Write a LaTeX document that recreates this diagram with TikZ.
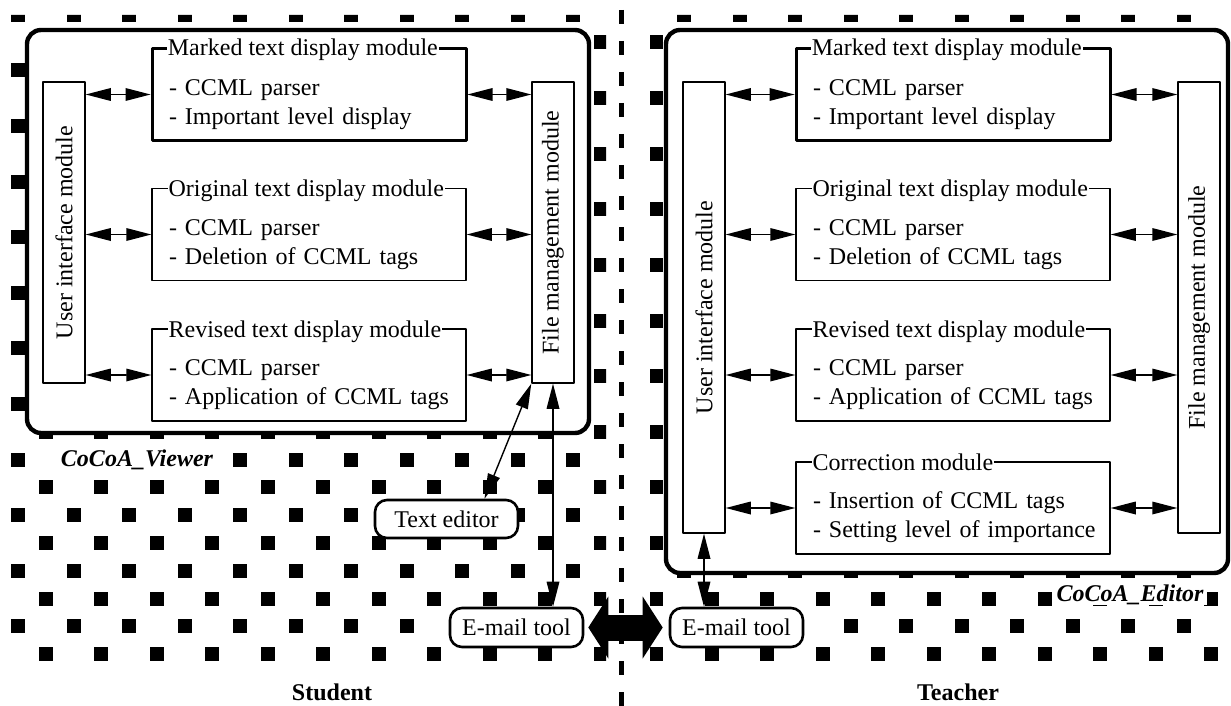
\documentclass[tikz,border=0pt]{standalone}
\usepackage{fontspec}
\setmainfont{Liberation Serif}
\usetikzlibrary{arrows.meta}

\begin{document}
\begin{tikzpicture}[line cap=round,line join=round,x=0.5pt,y=-0.5pt,
		font=\fontsize{12}{14.5}\selectfont,
		modtip/.tip={Triangle[length=12.5pt,width=6.5pt,line width=0pt]},
		bigtip/.tip={Triangle[length=10pt,width=31pt,line width=0pt]},
		modarrow/.style={modtip-modtip,line width=0.7pt},
		bigarrow/.style={bigtip-bigtip,line width=13pt,line cap=butt,shorten <=2pt,shorten >=3pt},
		divider/.style={line width=2.5pt,line cap=butt,dash pattern=on 7pt off 8.5pt},
		panel/.style={line width=2.2pt,rounded corners=7pt,fill=white},
		modbox/.style={draw,line width=0.75pt,minimum width=157pt,minimum height=46pt,
			inner xsep=4.5pt,text width=148pt,align=left,
			execute at begin node={\leftskip=4pt\rule{0pt}{18pt}}},
		markbox/.style={modbox,line width=1.5pt},
		modtitle/.style={fill=white,inner xsep=0.5pt,inner ysep=1pt,anchor=base west,xshift=8pt,yshift=-4.5pt},
		sidebox/.style={draw,line width=0.75pt,rotate=90,minimum height=21pt},
		toolbox/.style={draw,line width=1.3pt,rounded corners=6pt,fill=white,minimum width=66.5pt,minimum height=19.5pt,inner sep=0pt},
		appname/.style={fill=white,inner xsep=2pt,inner ysep=0pt,font=\fontsize{12}{14.5}\selectfont\bfseries\itshape},
		sidename/.style={font=\fontsize{12}{14.5}\selectfont\bfseries}]
	\useasboundingbox (0,0) rectangle (1231,706);
	% dotted background
	\begin{scope}
		\clip (11,15) rectangle (606,667) (650,15) rectangle (1225,667);
		\foreach \r in {0,...,23}
		\foreach \c in {0,...,21}{
			\pgfmathsetmacro\px{11+55.5*\c+27.75*mod(\r,2)}
			\pgfmathsetmacro\py{7.7+27.8*\r}
			\fill (\px,\py) rectangle +(14,14);
		}
	\end{scope}
	\draw[divider] (621,10) -- (621,706);
	
	% student side
	\draw[panel] (27,30) rectangle (589,433);
	\node[sidebox,minimum width=150.5pt] (uiL) at (64,232.5) {User interface module};
	\node[sidebox,minimum width=150.5pt] (fmL) at (553,232.5) {File management module};
	\node[markbox] (mkL) at (309,94.5) {- CCML parser\\- Important level display};
	\node[modtitle] (mkLt) at (mkL.north west) {Marked text display module};
	\node[modbox] (ogL) at (309,234.5) {- CCML parser\\- Deletion of CCML tags};
	\node[modtitle] (ogLt) at (ogL.north west) {Original text display module};
	\node[modbox] (rvL) at (309,375) {- CCML parser\\- Application of CCML tags};
	\node[modtitle] (rvLt) at (rvL.north west) {Revised text display module};
	\foreach \m in {mkL,ogL,rvL}{
		\draw[modarrow] (uiL.south |- \m.west) -- (\m.west);
		\draw[modarrow] (\m.east) -- (\m.east -| fmL.north);
	}
	\node[appname] (viewer) at (137,460) {CoCoA\_Viewer};
	\node[toolbox,minimum width=71.5pt,minimum height=19pt] (txed) at (446.5,519) {Text editor};
	\node[toolbox] (mailL) at (516.5,627.5) {E-mail tool};
	\draw[modarrow] ([xshift=19pt]txed.north) -- (fmL.north west);
	\draw[modarrow] (fmL.west) -- (fmL.west |- mailL.north);
	\node[sidename] (student) at (332,692) {Student};
	
	% teacher side
	\draw[panel] (666,30) rectangle (1228,573);
	\node[sidebox,minimum width=225.5pt] (uiR) at (704,307.5) {User interface module};
	\node[sidebox,minimum width=225.5pt] (fmR) at (1199,307.5) {File management module};
	\node[markbox] (mkR) at (953,94.5) {- CCML parser\\- Important level display};
	\node[modtitle] (mkRt) at (mkR.north west) {Marked text display module};
	\node[modbox] (ogR) at (953,234.5) {- CCML parser\\- Deletion of CCML tags};
	\node[modtitle] (ogRt) at (ogR.north west) {Original text display module};
	\node[modbox] (rvR) at (953,375) {- CCML parser\\- Application of CCML tags};
	\node[modtitle] (rvRt) at (rvR.north west) {Revised text display module};
	\node[modbox] (crR) at (953,508) {- Insertion of CCML tags\\- Setting level of importance};
	\node[modtitle] (crRt) at (crR.north west) {Correction module};
	\foreach \m in {mkR,ogR,rvR,crR}{
		\draw[modarrow] (uiR.south |- \m.west) -- (\m.west);
		\draw[modarrow] (\m.east) -- (\m.east -| fmR.north);
	}
	\node[appname] (editor) at (1130,595) {CoCoA\_Editor};
	\node[toolbox] (mailR) at (736.5,627.5) {E-mail tool};
	\draw[modarrow] (uiR.west) -- (uiR.west |- mailR.north);
	\node[sidename] (teacher) at (958,692) {Teacher};
	
	\draw[bigarrow] (mailL) -- (mailR);
\end{tikzpicture}
\end{document}
